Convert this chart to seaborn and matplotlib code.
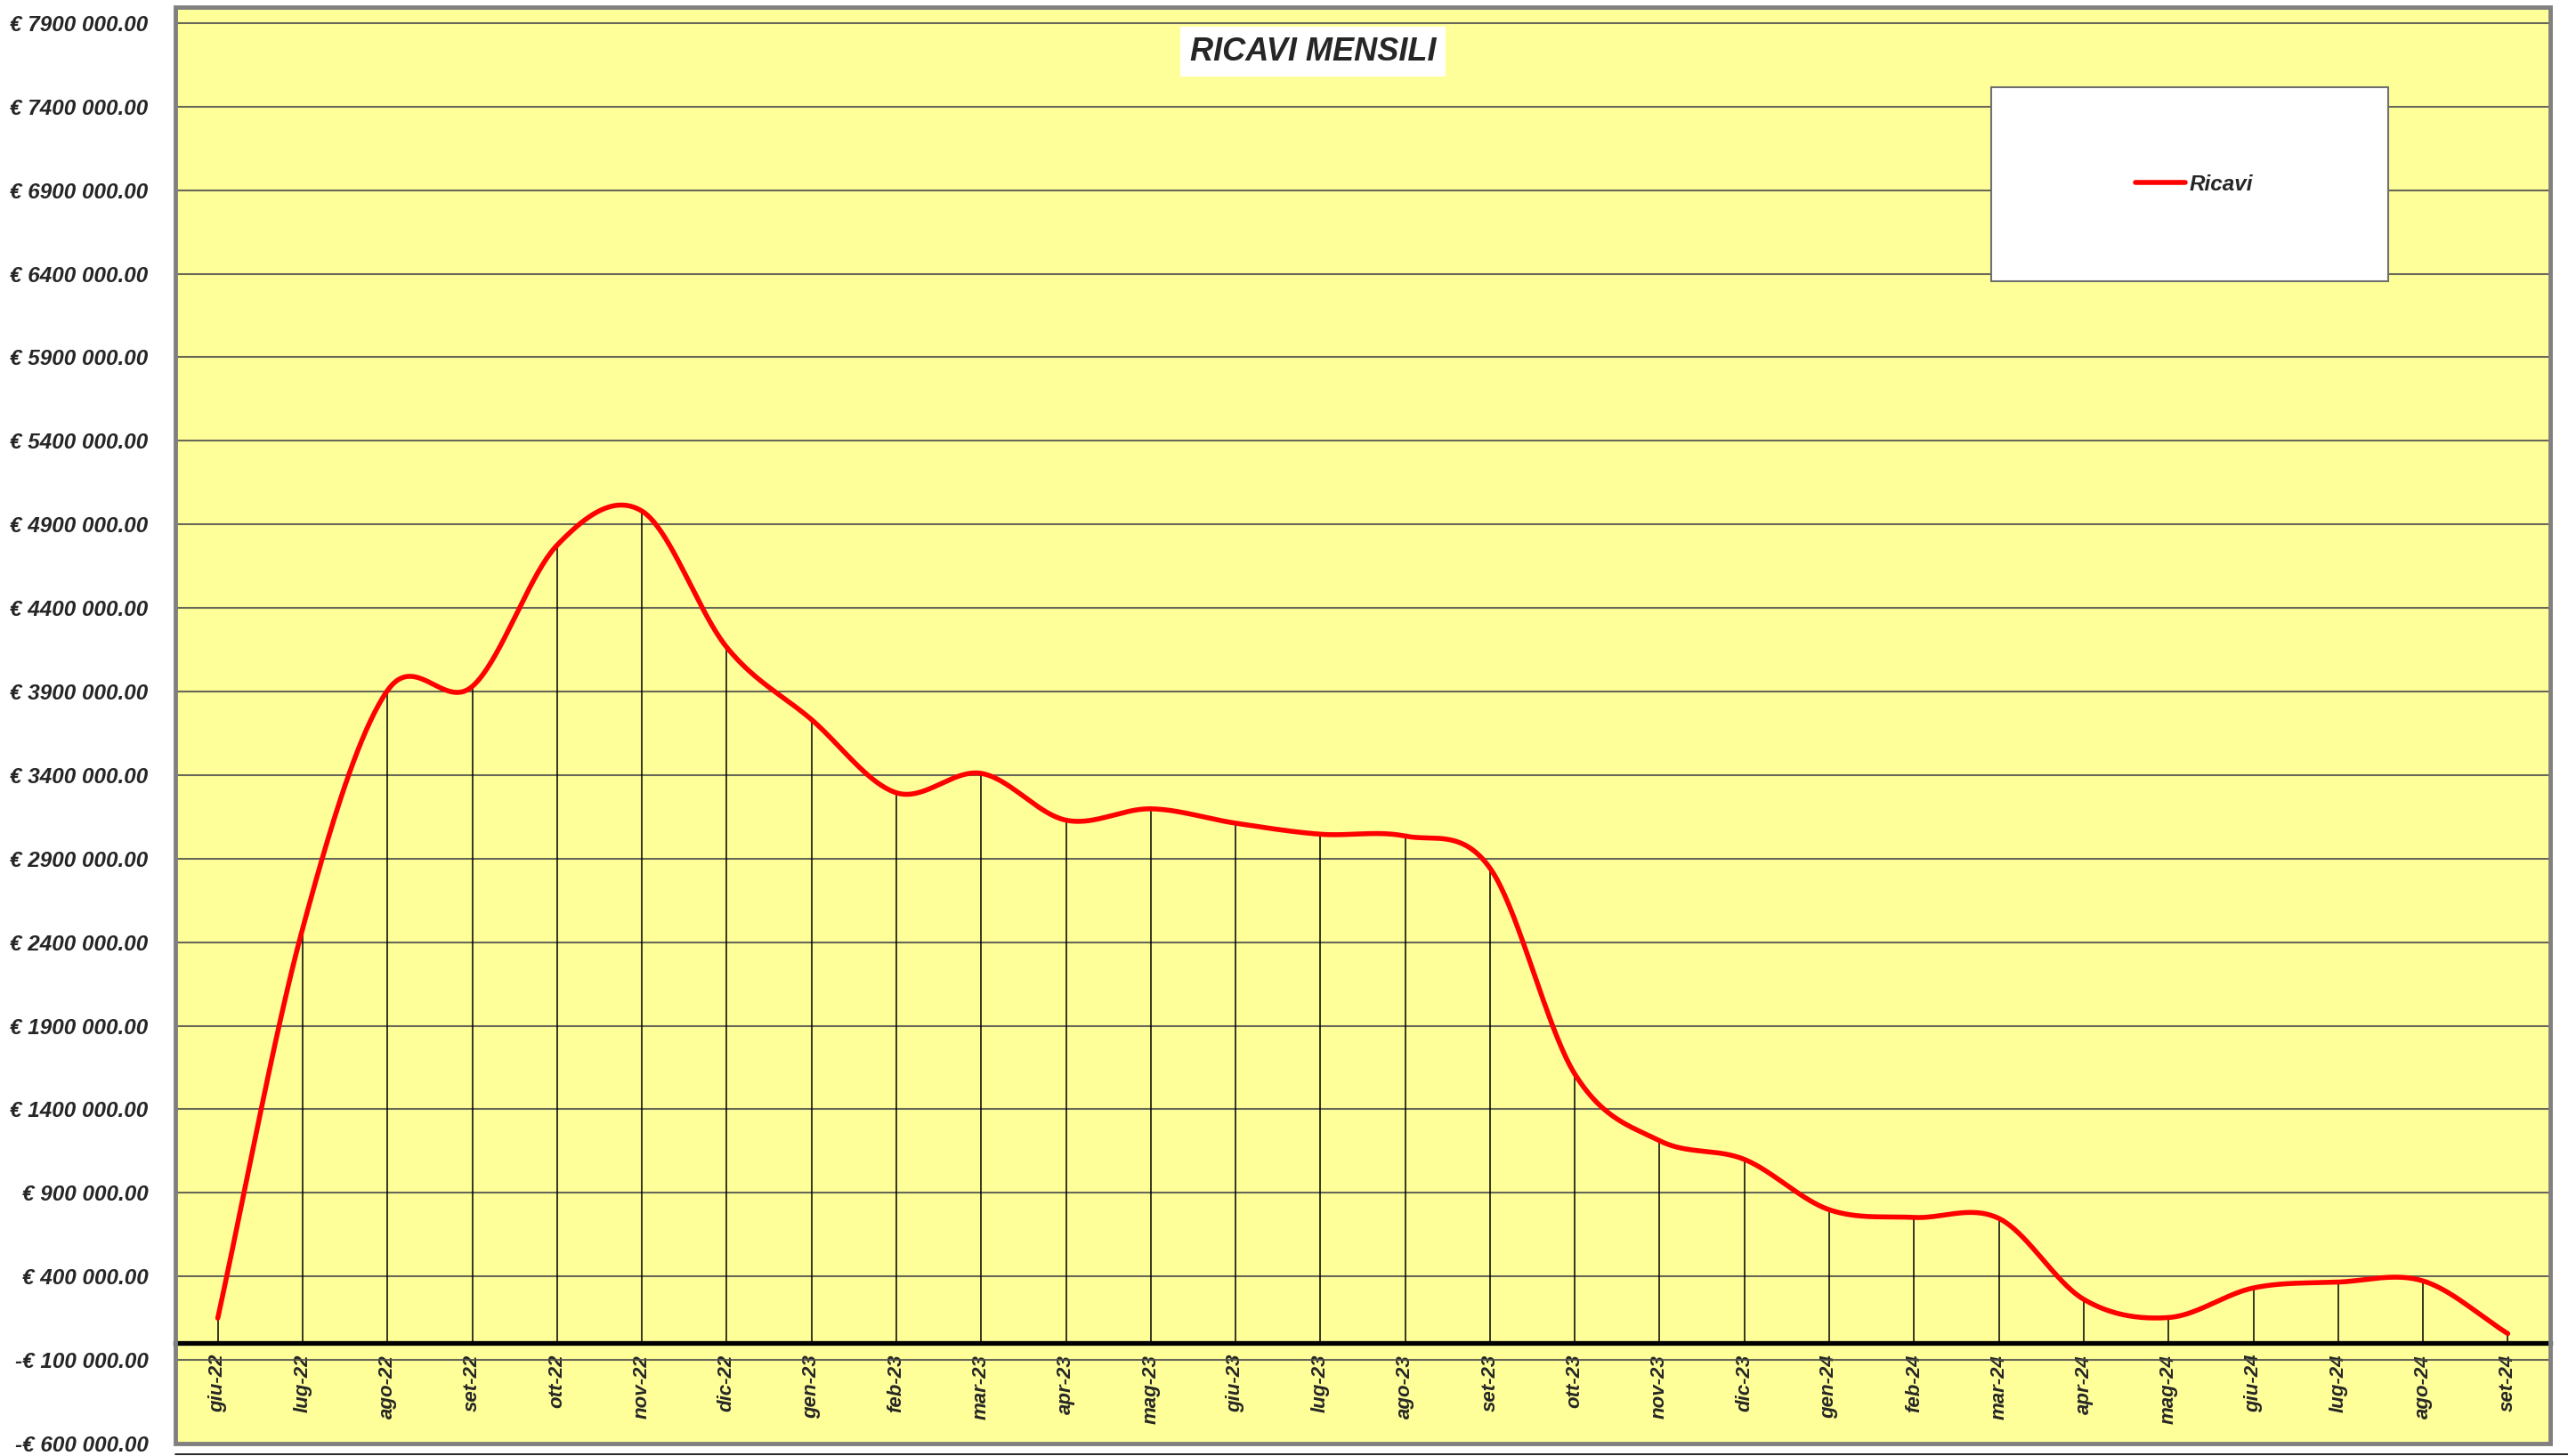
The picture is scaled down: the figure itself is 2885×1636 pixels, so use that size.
import numpy as np
import pandas as pd
import matplotlib.pyplot as plt
import seaborn as sns
from matplotlib.patches import Rectangle
from matplotlib.lines import Line2D
from matplotlib.ticker import FuncFormatter

# Monthly revenue values
mesi = ["giu-22", "lug-22", "ago-22", "set-22", "ott-22", "nov-22", "dic-22",
        "gen-23", "feb-23", "mar-23", "apr-23", "mag-23", "giu-23", "lug-23",
        "ago-23", "set-23", "ott-23", "nov-23", "dic-23", "gen-24", "feb-24",
        "mar-24", "apr-24", "mag-24", "giu-24", "lug-24", "ago-24", "set-24"]
ricavi = [150000, 2480000, 3905000, 3930000, 4775000, 4980000, 4165000,
          3732000, 3294000, 3410000, 3130000, 3198000, 3112000, 3046000,
          3035000, 2843000, 1611000, 1212000, 1100000, 799000, 753000,
          747000, 263000, 154000, 331000, 366000, 373000, 58000]
y_ticks = list(range(-600000, 7900001, 500000))

df = pd.DataFrame({"mese": mesi, "ricavi": ricavi})
df["pos"] = np.arange(len(df))


# Excel-like smoothed line (Catmull-Rom through the data points)
def smooth_line(y, n=40):
    y = np.asarray(y, dtype=float)
    p = np.concatenate([[2 * y[0] - y[1]], y, [2 * y[-1] - y[-2]]])
    xs, ys = [], []
    t = np.linspace(0, 1, n, endpoint=False)
    for i in range(len(y) - 1):
        p0, p1, p2, p3 = p[i], p[i + 1], p[i + 2], p[i + 3]
        seg = 0.5 * (2 * p1 + (-p0 + p2) * t + (2 * p0 - 5 * p1 + 4 * p2 - p3) * t ** 2
                     + (-p0 + 3 * p1 - 3 * p2 + p3) * t ** 3)
        xs.append(i + t)
        ys.append(seg)
    xs.append([len(y) - 1])
    ys.append([y[-1]])
    return np.concatenate(xs), np.concatenate(ys)


sns.set_style("white")
plt.rcParams["font.family"] = ["Liberation Sans", "DejaVu Sans"]
plt.rcParams["font.weight"] = "bold"
plt.rcParams["font.style"] = "italic"

fig = plt.figure(figsize=(28.85, 16.36), dpi=100)
ax = fig.add_axes([197 / 2885, 1 - 1622 / 1636, (2865 - 197) / 2885, (1622 - 8) / 1636])
ax.set_facecolor("#FFFF99")

# drop lines from the x axis to each point
ax.vlines(df["pos"], 0, df["ricavi"], color="black", lw=1.1, zorder=2)

sx, sy = smooth_line(df["ricavi"].values)
sns.lineplot(x=sx, y=sy, color="red", lw=4, sort=False, estimator=None, ax=ax,
             zorder=4, legend=False)

ax.set_xlim(-0.5, len(mesi) - 0.5)
ax.set_ylim(-600000, 7995000)

# y axis
ax.set_yticks(y_ticks)


def euro(v, pos):
    v = int(round(v))
    sign = "-" if v < 0 else ""
    v = abs(v)
    return f"{sign}€ {v // 1000} {v % 1000:03d}.00"


ax.yaxis.set_major_formatter(FuncFormatter(euro))
ax.tick_params(axis="y", direction="out", length=6, width=1.5, color="#555555",
               labelsize=17.5, pad=16)
ax.grid(axis="y", color="#4d4d4d", lw=1.5, alpha=0.85)
ax.grid(axis="x", visible=False)
ax.set_axisbelow(True)

# x axis drawn on the zero line
for s in ["left", "right", "top"]:
    ax.spines[s].set_visible(False)
ax.spines["bottom"].set_position(("data", 0))
ax.spines["bottom"].set_color("black")
ax.spines["bottom"].set_linewidth(3.8)
ax.spines["bottom"].set_zorder(5)
ax.set_xticks(df["pos"])
ax.set_xticklabels(mesi, rotation=90)
ax.set_xticks(np.arange(-0.5, len(mesi), 1), minor=True)
ax.tick_params(axis="x", which="major", length=0, labelsize=16, pad=9)
ax.tick_params(axis="x", which="minor", length=5, width=3, color="black", direction="out")
ax.set_xlabel("")
ax.set_ylabel("")

# grey plot-area frame
ax.add_patch(Rectangle((0, 0), 1, 1, transform=ax.transAxes, fill=False,
                       ec="#808080", lw=3.5, clip_on=False, zorder=6))

# title in a white box
fig.text(1475 / 2885, 1 - 58 / 1636, "RICAVI MENSILI", fontsize=26, ha="center",
         va="center", fontweight="bold", fontstyle="italic",
         bbox=dict(boxstyle="square,pad=0.3", fc="white", ec="none"))

# legend in a white box
bx0, by0, bw, bh = 0.7646, 0.8092, 0.1672, 0.135
ax.add_patch(Rectangle((bx0, by0), bw, bh, transform=ax.transAxes, fc="white",
                       ec="#707070", lw=1.5, zorder=7))
handle = Line2D([], [], color="red", lw=4, solid_capstyle="round")
leg = ax.legend([handle], ["Ricavi"], loc="center",
                bbox_to_anchor=(bx0 + bw / 2 + 0.002, by0 + bh / 2),
                frameon=False, fontsize=17.5, handlelength=2.3, handletextpad=0.2)
leg.set_zorder(8)

# chart-area bottom border
fig.add_artist(Line2D([197 / 2885, 1], [0.0012, 0.0012], color="black", lw=1.2))

plt.savefig("out.png", dpi=100)
